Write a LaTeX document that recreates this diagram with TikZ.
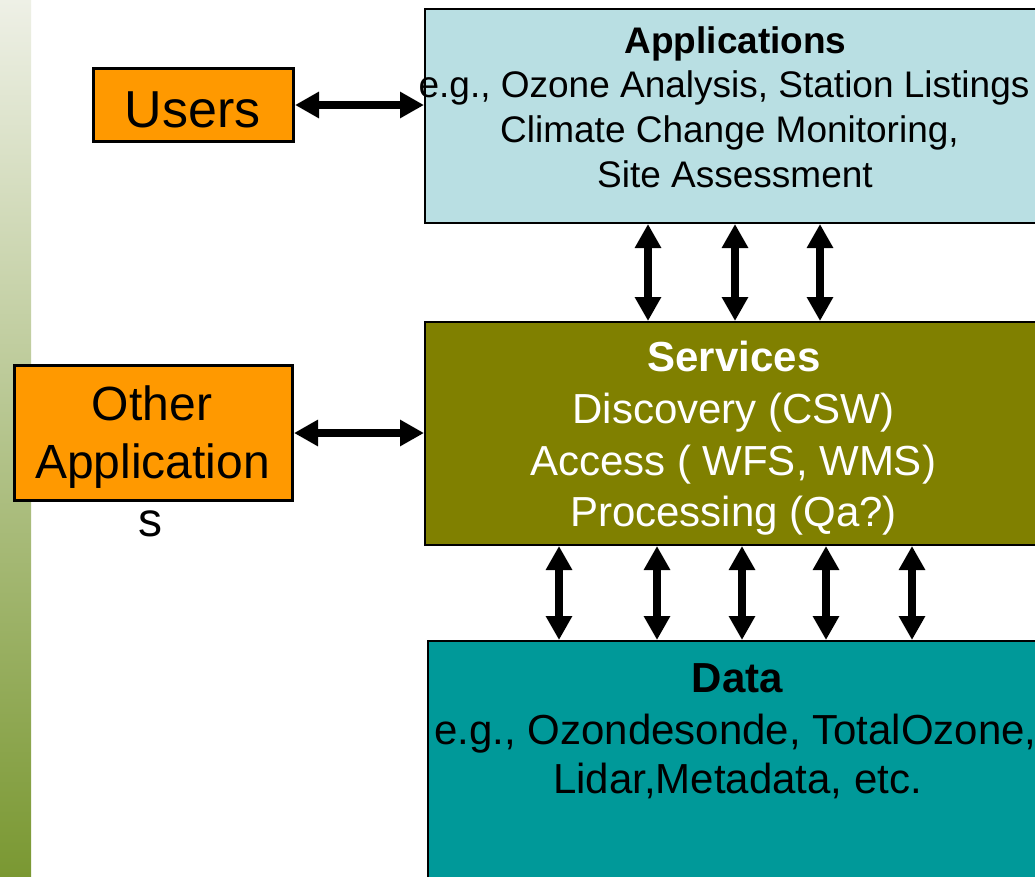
\documentclass[tikz,border=0pt]{standalone}
\usepackage{fontspec}
\setmainfont{Liberation Sans}
\usetikzlibrary{arrows.meta}
\definecolor{orng}{HTML}{FF9900}
\definecolor{appfill}{HTML}{B9DFE3}
\definecolor{svcfill}{HTML}{808000}
\definecolor{datafill}{HTML}{009999}
\definecolor{stripTop}{RGB}{238,240,230}
\definecolor{stripMid}{RGB}{178,196,134}
\definecolor{stripBot}{RGB}{122,152,50}
\begin{document}
\begin{tikzpicture}[x=1pt,y=-1pt,
  box/.style={draw=black, line width=2pt, inner sep=0pt, anchor=north west},
  userbox/.style={box, fill=orng, line width=3pt},
  lbl/.style={anchor=base, inner sep=0pt},
  link/.style={line width=7.5pt, {Triangle[width=25pt,length=24pt]}-{Triangle[width=25pt,length=24pt]}},
]
\useasboundingbox (0,0) rectangle (1035,876);
\fill[white] (0,0) rectangle (1035,876);
% left decorative strip
\shade[top color=stripTop, middle color=stripMid, bottom color=stripBot] (0,0) rectangle (31,876);

% boxes
\node[userbox, minimum width=200pt, minimum height=73pt] (users) at (92,67) {};
\node[userbox, minimum width=278pt, minimum height=135pt] (other) at (13,364) {};
\node[box, fill=appfill, minimum width=640pt, minimum height=214pt] (apps) at (424,8) {};
\node[box, fill=svcfill, minimum width=640pt, minimum height=223pt] (svc) at (424,321) {};
\node[box, fill=datafill, minimum width=640pt, minimum height=260pt] (data) at (427,640) {};

% texts
\node[lbl] (tusers) at (192.5,127) {\fontsize{52pt}{60pt}\selectfont Users};
\node[lbl] (tother1) at (152,420) {\fontsize{48pt}{58pt}\selectfont Other};
\node[lbl] (tother2) at (152.5,478) {\fontsize{48pt}{58pt}\selectfont Application};
\node[lbl] (tother3) at (150,536) {\fontsize{48pt}{58pt}\selectfont s};

\node[lbl] (ta1) at (735.5,53) {\fontsize{37pt}{45pt}\selectfont\bfseries Applications};
\node[lbl] (ta2) at (724,97) {\fontsize{37pt}{45pt}\selectfont e.g., Ozone Analysis, Station Listings};
\node[lbl] (ta3) at (729.5,142) {\fontsize{37pt}{45pt}\selectfont Climate Change Monitoring,};
\node[lbl] (ta4) at (735,187) {\fontsize{37pt}{45pt}\selectfont Site Assessment};

\node[lbl, text=white] (ts1) at (734,371) {\fontsize{42pt}{51pt}\selectfont\bfseries Services};
\node[lbl, text=white] (ts2) at (733.5,423) {\fontsize{42pt}{51pt}\selectfont Discovery (CSW)};
\node[lbl, text=white] (ts3) at (733,475) {\fontsize{42pt}{51pt}\selectfont Access ( WFS, WMS)};
\node[lbl, text=white] (ts4) at (733.5,526) {\fontsize{42pt}{51pt}\selectfont Processing (Qa?)};

\node[lbl] (td1) at (737.5,692) {\fontsize{42pt}{51pt}\selectfont\bfseries Data};
\node[lbl] (td2) at (735.5,744) {\fontsize{42pt}{51pt}\selectfont e.g., Ozondesonde, TotalOzone,};
\node[lbl] (td3) at (737.5,793) {\fontsize{42pt}{51pt}\selectfont Lidar,Metadata, etc.};

% connectors
\draw[link] (users.east) -- (users.east -| apps.west);
\draw[link] (other.east) -- (other.east -| svc.west);

\coordinate (u1) at (648,0);
\coordinate (u2) at (735,0);
\coordinate (u3) at (820,0);
\foreach \c in {u1,u2,u3}
  \draw[link] (apps.south -| \c) -- (svc.north -| \c);

\coordinate (d1) at (559,0);
\coordinate (d2) at (657,0);
\coordinate (d3) at (742,0);
\coordinate (d4) at (826,0);
\coordinate (d5) at (912,0);
\foreach \c in {d1,d2,d3,d4,d5}
  \draw[link] (svc.south -| \c) -- (data.north -| \c);
\end{tikzpicture}
\end{document}
